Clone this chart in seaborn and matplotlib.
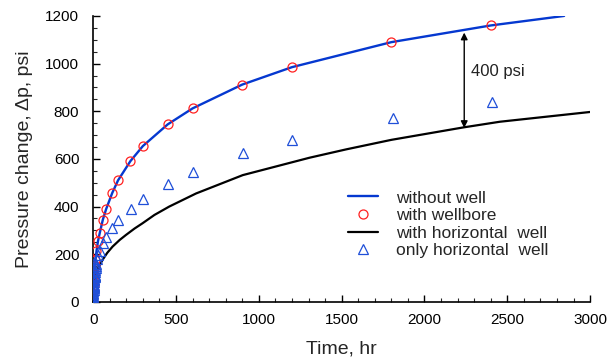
import matplotlib
matplotlib.use("Agg")
import matplotlib.pyplot as plt
import seaborn as sns
import pandas as pd

# ---- data ----
t_without = [0, 0.5, 1, 2, 4, 6, 10, 14, 20, 29, 40, 58, 78, 115, 150, 225, 300,
             450, 600, 900, 1200, 1800, 2400, 2843]
dp_without = [0, 35, 50, 70, 95, 112, 150, 175, 213, 255, 290, 344, 389, 457, 510,
              591, 654, 745, 812, 912, 985, 1090, 1160, 1200]

t_wellbore = [0, 1, 2, 4, 6, 10, 14, 20, 29, 40, 58, 78, 115, 150, 225, 300,
              450, 600, 900, 1200, 1800, 2400]
dp_wellbore = [0, 50, 70, 95, 112, 150, 175, 213, 255, 290, 344, 389, 457, 510,
               591, 654, 745, 812, 912, 985, 1090, 1160]

t_horiz = [1, 2, 4, 6, 10, 16, 30, 56, 85, 117, 160, 198, 250, 298, 370, 459,
           621, 903, 1306, 1527, 1800, 2233, 2455, 3000]
dp_horiz = [35, 50, 68, 80, 97, 113, 142, 176, 206, 232, 260, 281, 308, 330,
            365, 400, 455, 532, 605, 640, 680, 732, 756, 797]

t_only = [0, 0.1, 0.2, 0.3, 0.5, 0.7, 1, 1.3, 1.6, 2, 2.5, 3, 3.5, 4, 5, 6, 7,
          8, 9, 10, 12, 14, 16, 18, 20, 25, 30, 40, 58, 78, 115, 150, 228, 302,
          453, 602, 905, 1199, 1812, 2409]
dp_only = [0, 5, 10, 14, 20, 25, 32, 38, 44, 50, 57, 63, 68, 73, 82, 90, 97,
           103, 109, 115, 125, 134, 143, 151, 160, 178, 195, 215, 247, 272, 310,
           344, 389, 433, 494, 546, 623, 679, 773, 837]

x_ticks = [0, 500, 1000, 1500, 2000, 2500, 3000]
y_ticks = [0, 200, 400, 600, 800, 1000, 1200]

df_without = pd.DataFrame({"t": t_without, "dp": dp_without})
df_wellbore = pd.DataFrame({"t": t_wellbore, "dp": dp_wellbore})
df_horiz = pd.DataFrame({"t": t_horiz, "dp": dp_horiz})
df_only = pd.DataFrame({"t": t_only, "dp": dp_only})

sns.set_style("ticks")
plt.rcParams["font.family"] = ["Liberation Sans", "DejaVu Sans"]

fig = plt.figure(figsize=(6.09, 3.62), dpi=100)
ax = fig.add_axes([0.153, 0.166, 0.816, 0.790])

blue = "#0538d0"
sns.lineplot(data=df_without, x="t", y="dp", ax=ax, color=blue, lw=1.7,
             label="without well", zorder=3)
ax.plot(df_wellbore["t"], df_wellbore["dp"], ls="none", marker="o", ms=6.5,
        mfc="none", mec="#ff2020", mew=0.9, label="with wellbore", zorder=4)
sns.lineplot(data=df_horiz, x="t", y="dp", ax=ax, color="black", lw=1.6,
             label="with horizontal  well", zorder=3)
ax.plot(df_only["t"], df_only["dp"], ls="none", marker="^", ms=6.5,
        mfc="none", mec="#1f4fd8", mew=0.9, label="only horizontal  well", zorder=4)

# 400 psi annotation
ax.annotate("", xy=(2240, 1130), xytext=(2240, 730),
            arrowprops=dict(arrowstyle="<|-|>", color="black", lw=1.0,
                            mutation_scale=10, shrinkA=0, shrinkB=0))
ax.text(2280, 966, "400 psi", fontsize=12, va="center", ha="left", color="#222222")

ax.set_xlim(0, 3000)
ax.set_ylim(0, 1200)
ax.set_xticks(x_ticks)
ax.set_yticks(y_ticks)
ax.set_xticks(range(0, 3001, 100), minor=True)
ax.set_yticks(range(0, 1201, 50), minor=True)
ax.tick_params(axis="both", which="major", direction="in", length=5, width=1,
               labelsize=11, colors="black")
ax.tick_params(axis="x", which="major", pad=8)
ax.tick_params(axis="y", which="major", pad=10)
ax.tick_params(axis="both", which="minor", direction="in", length=3, width=0.8)
for s in ["top", "right"]:
    ax.spines[s].set_visible(False)
for s in ["left", "bottom"]:
    ax.spines[s].set_linewidth(1.2)
    ax.spines[s].set_color("black")

ax.set_xlabel("Time, hr", fontsize=14, labelpad=10)
ax.set_ylabel("Pressure change, \u0394p, psi", fontsize=14, labelpad=9)

leg = ax.legend(loc="upper left", bbox_to_anchor=(0.512, 0.39), frameon=False,
                fontsize=12.5, handlelength=1.75, handletextpad=1.05,
                labelspacing=0.14, borderaxespad=0, borderpad=0)

fig.savefig("out.png", dpi=100)
